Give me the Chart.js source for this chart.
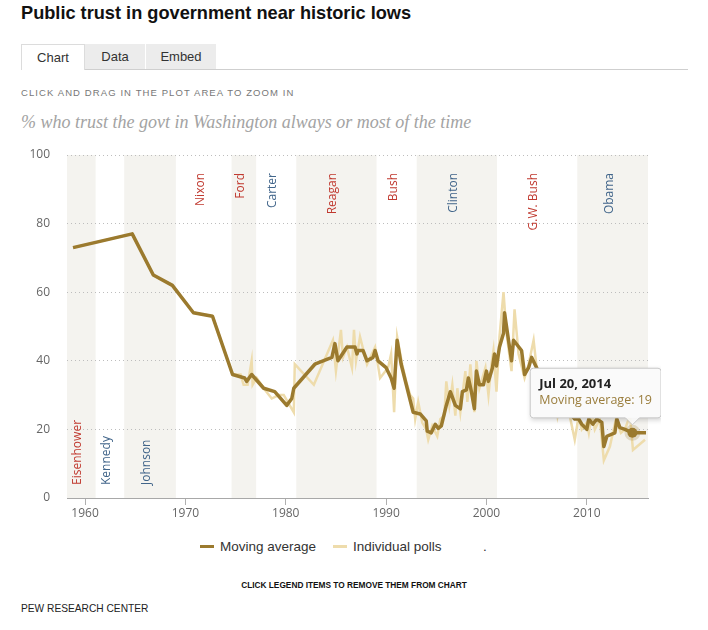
<!DOCTYPE html>
<html>
<head>
<meta charset="utf-8">
<title>Public trust in government near historic lows</title>
<script src="https://cdn.jsdelivr.net/npm/chart.js@4.4.0/dist/chart.umd.min.js"></script>
<style>
  html, body { margin: 0; padding: 0; background: #fff; }
  body { width: 708px; height: 630px; position: relative; overflow: hidden; font-family: 'Liberation Sans', Arial, sans-serif; }
  .abs { position: absolute; white-space: nowrap; }
  #title { left: 21px; top: 3px; font: bold 18.2px 'Liberation Sans Narrow', 'Liberation Sans', sans-serif; color: #111; }
  .tab { position: absolute; top: 44px; height: 25px; line-height: 25px; text-align: center; font-size: 13px; color: #333; background: #ececec; }
  #tab-chart { left: 21px; width: 62px; background: #fff; border: 1px solid #dcdcdc; border-bottom: none; height: 25px; z-index: 2; }
  #tab-data { left: 85px; width: 60px; }
  #tab-embed { left: 146px; width: 70px; }
  #tabline { left: 21px; top: 69px; width: 667px; height: 1px; background: #cfcfcf; }
  #hint { left: 21px; top: 87px; font-size: 9.5px; letter-spacing: 1.1px; color: #777; }
  #subtitle { left: 21px; top: 112px; font: italic 18px 'Liberation Serif', Georgia, serif; color: #a3a3a3; }
  #wrap { position: absolute; left: 0; top: 140px; width: 661px; height: 390px; }
  .leg { position: absolute; top: 539px; height: 16px; line-height: 16px; font: 13.5px 'Liberation Sans Narrow', 'Liberation Sans', sans-serif; color: #333; }
  .leg i { display: inline-block; width: 14px; height: 3px; vertical-align: middle; margin-right: 6px; position: relative; top: -1px; }
  #legnote { left: 0; width: 708px; text-align: center; top: 580px; font: bold 8.3px 'Liberation Sans Narrow', 'Liberation Sans', sans-serif; color: #111; }
  #source { left: 21px; top: 603px; font: 10.2px 'Liberation Sans Narrow', 'Liberation Sans', sans-serif; color: #222; }
</style>
</head>
<body>
<div id="title" class="abs">Public trust in government near historic lows</div>
<div id="tab-chart" class="tab">Chart</div>
<div id="tab-data" class="tab">Data</div>
<div id="tab-embed" class="tab">Embed</div>
<div id="tabline" class="abs"></div>
<div id="hint" class="abs">CLICK AND DRAG IN THE PLOT AREA TO ZOOM IN</div>
<div id="subtitle" class="abs">% who trust the govt in Washington always or most of the time</div>
<div id="wrap"><canvas id="trustChart" width="661" height="390"></canvas></div>
<div class="leg" style="left:200px"><i style="background:#9b7a2e"></i>Moving average</div>
<div class="leg" style="left:333px"><i style="background:#eedcac"></i>Individual polls</div>
<div class="leg" style="left:483px">.</div>
<div id="legnote" class="abs">CLICK LEGEND ITEMS TO REMOVE THEM FROM CHART</div>
<div id="source" class="abs">PEW RESEARCH CENTER</div>

<script>
// Moving average (decimal year, percent)
const avgYears = [1958.8, 1964.7, 1966.8, 1968.7, 1970.8, 1972.7, 1974.7, 1975.9, 1976.1, 1976.6,
  1977.8, 1978.9, 1980.1, 1980.6, 1980.8, 1982.9, 1984.6, 1984.9, 1985.2, 1986.1,
  1986.9, 1987.1, 1987.2, 1987.7, 1988.1, 1988.7, 1988.9, 1989.2, 1990.0, 1990.5,
  1990.8, 1991.1, 1991.5, 1992.7, 1993.4, 1994.0, 1994.1, 1994.5, 1994.9, 1995.2,
  1995.5, 1996.0, 1996.4, 1996.9, 1997.4, 1997.6, 1998.0, 1998.2, 1998.5, 1998.8,
  1999.0, 1999.3, 1999.7, 2000.0, 2000.2, 2000.6, 2000.8, 2001.0, 2001.3, 2001.7,
  2001.8, 2002.2, 2002.5, 2002.7, 2003.5, 2003.8, 2004.2, 2004.5, 2005.0, 2005.5,
  2006.0, 2006.5, 2007.0, 2007.6, 2008.2, 2008.8, 2009.2, 2009.5, 2010.0, 2010.2,
  2010.6, 2011.0, 2011.5, 2011.7, 2012.0, 2012.8, 2013.0, 2013.3, 2013.8, 2014.548,
  2015.9];
const avgValues = [73, 77, 65, 62, 54, 53, 36, 35, 34, 36,
  32, 31, 27, 29, 32, 39, 41, 45, 40, 44,
  44, 42, 43, 43, 40, 41, 43, 40, 38, 35,
  32, 46, 39, 25, 24.5, 22.5, 19.5, 19, 21.5, 20.3,
  21, 27, 31, 27, 26, 31, 31.5, 35, 31, 26,
  37, 33, 33, 37, 34, 38, 42, 38.5, 44, 48,
  54, 46, 40, 46, 43, 36, 38, 41, 38, 35,
  33, 31, 29, 27, 25, 23, 23, 21.5, 20, 23,
  21.5, 23, 22, 15, 18, 19, 23, 20.5, 20, 19,
  19];

// Individual polls
const pollYears = [1958.8, 1964.7, 1966.8, 1968.7, 1970.8, 1972.7, 1974.7, 1975.5, 1975.8, 1976.2,
  1976.6, 1976.7, 1977.1, 1977.8, 1978.6, 1979.3, 1979.8, 1980.6, 1980.8, 1980.9,
  1982.8, 1984.7, 1985.0, 1985.5, 1985.7, 1986.1, 1986.6, 1986.8, 1987.0, 1987.4,
  1988.1, 1988.9, 1989.4, 1990.2, 1990.5, 1990.8, 1991.1, 1991.6, 1992.0, 1992.4,
  1992.7, 1992.9, 1993.2, 1993.6, 1994.0, 1994.2, 1994.6, 1995.1, 1995.4, 1995.8,
  1996.0, 1996.3, 1996.6, 1996.9, 1997.1, 1997.4, 1997.9, 1998.1, 1998.4, 1998.8,
  1999.0, 1999.3, 1999.6, 1999.9, 2000.2, 2000.5, 2000.7, 2001.0, 2001.3, 2001.7,
  2002.0, 2002.5, 2002.8, 2003.2, 2003.8, 2004.2, 2004.7, 2005.0, 2005.5, 2005.9,
  2006.3, 2006.8, 2007.1, 2007.6, 2008.0, 2008.3, 2008.8, 2009.2, 2009.5, 2010.0,
  2010.2, 2010.5, 2010.8, 2011.3, 2011.7, 2012.3, 2012.9, 2013.4, 2013.8, 2014.3,
  2014.6, 2015.8];
const pollValues = [73, 77, 65, 62, 54, 53, 36, 36, 33, 33,
  40, 33, 35, 32, 29, 30, 30, 26, 25, 39,
  33, 46, 37, 49, 41, 44, 38, 49, 40, 47,
  39, 44, 35, 38, 42, 25, 47, 39, 34, 30,
  29, 23, 28, 22, 20, 17, 21, 18, 23, 24,
  34, 27, 33, 24, 32, 25, 37, 28, 39, 25,
  40, 32, 35, 38, 30, 39, 43, 31, 47, 60,
  48, 37, 55, 42, 35, 39, 46, 38, 31, 35,
  28, 33, 24, 30, 26, 24, 17, 24, 20, 22,
  19, 25, 20, 23, 11, 15, 23, 19, 20, 24,
  14, 17];

// Presidencies (shaded bands + rotated labels)
const presNames = ['Eisenhower', 'Kennedy', 'Johnson', 'Nixon', 'Ford', 'Carter', 'Reagan', 'Bush', 'Clinton', 'G.W. Bush', 'Obama'];
const presStart = [1953.05, 1961.05, 1963.9, 1969.05, 1974.6, 1977.05, 1981.05, 1989.05, 1993.05, 2001.05, 2009.05];
const presEnd   = [1961.05, 1963.9, 1969.05, 1974.6, 1977.05, 1981.05, 1989.05, 1993.05, 2001.05, 2009.05, 2017.05];
const presParty = ['R', 'D', 'D', 'R', 'R', 'D', 'R', 'R', 'D', 'R', 'D'];
const presLabelAt = ['bottom', 'bottom', 'bottom', 'top', 'top', 'top', 'top', 'top', 'top', 'top', 'top'];

const yearTicks = [1960, 1970, 1980, 1990, 2000, 2010];
const valueTicks = [0, 20, 40, 60, 80, 100];
const highlightYear = 2014.548; // point shown with the tooltip

const GOLD = '#9b7a2e';
const TAN = '#eedcac';
const BAND = '#f4f3ef';
const partyColor = { R: '#c0392f', D: '#41658a' };
const months = ['Jan', 'Feb', 'Mar', 'Apr', 'May', 'Jun', 'Jul', 'Aug', 'Sep', 'Oct', 'Nov', 'Dec'];

function fmtDate(yr) {
  const y = Math.floor(yr);
  const d = new Date(y, 0, 1 + Math.round((yr - y) * 365));
  return months[d.getMonth()] + ' ' + d.getDate() + ', ' + y;
}

// bands under the grid, labels on top of the bands
const presidentBands = {
  id: 'presidentBands',
  beforeDraw(chart) {
    const { ctx, chartArea: a, scales: { x } } = chart;
    ctx.save();
    ctx.fillStyle = BAND;
    presNames.forEach((n, i) => {
      if (i % 2 !== 0) return;
      const x0 = Math.max(a.left, x.getPixelForValue(presStart[i]));
      const x1 = Math.min(a.right, x.getPixelForValue(presEnd[i]));
      if (x1 > x0) ctx.fillRect(x0, a.top, x1 - x0, a.bottom - a.top);
    });
    ctx.restore();
  },
  beforeDatasetsDraw(chart) {
    const { ctx, chartArea: a, scales: { x } } = chart;
    ctx.save();
    ctx.font = '12px "Open Sans", sans-serif';
    ctx.textBaseline = 'alphabetic';
    presNames.forEach((n, i) => {
      const x0 = Math.max(a.left, x.getPixelForValue(presStart[i]));
      const x1 = Math.min(a.right, x.getPixelForValue(presEnd[i]));
      const cx = (x0 + x1) / 2;
      ctx.save();
      ctx.fillStyle = partyColor[presParty[i]];
      if (presLabelAt[i] === 'top') {
        ctx.translate(cx, a.top + 18);
        ctx.rotate(-Math.PI / 2);
        ctx.textAlign = 'right';
      } else {
        ctx.translate(cx, a.bottom - 13);
        ctx.rotate(-Math.PI / 2);
        ctx.textAlign = 'left';
      }
      ctx.fillText(n, 0, 0);
      ctx.restore();
    });
    ctx.restore();
  }
};

// soft shadow behind the tooltip box
const tooltipShadow = {
  id: 'tooltipShadow',
  beforeTooltipDraw(chart, args) {
    const t = args.tooltip;
    if (!t || !t.opacity) return;
    const ctx = chart.ctx;
    ctx.save();
    ctx.shadowColor = 'rgba(0,0,0,0.18)';
    ctx.shadowBlur = 5;
    ctx.shadowOffsetX = 1;
    ctx.shadowOffsetY = 2;
    ctx.fillStyle = '#fafafa';
    ctx.fillRect(t.x, t.y, t.width, t.height);
    ctx.restore();
  }
};

Chart.defaults.font.family = '"Open Sans", sans-serif';

const ctx = document.getElementById('trustChart');
const chart = new Chart(ctx, {
  type: 'line',
  data: {
    datasets: [{
      label: 'Moving average',
      data: avgYears.map((x, i) => ({ x: x, y: avgValues[i] })),
      borderColor: GOLD,
      backgroundColor: GOLD,
      borderWidth: 3.5,
      pointRadius: 0,
      pointHoverRadius: 5,
      pointHoverBackgroundColor: GOLD,
      pointHoverBorderColor: 'rgba(155,122,46,0.22)',
      pointHoverBorderWidth: 6,
      tension: 0,
      borderJoinStyle: 'round'
    }, {
      label: 'Individual polls',
      data: pollYears.map((x, i) => ({ x: x, y: pollValues[i] })),
      borderColor: TAN,
      backgroundColor: TAN,
      borderWidth: 2.5,
      pointRadius: 0,
      pointHoverRadius: 0,
      tension: 0
    }]
  },
  options: {
    responsive: false,
    animation: false,
    layout: { padding: { top: 15, right: 13, left: 0, bottom: 0 } },
    scales: {
      x: {
        type: 'linear',
        min: 1958.2,
        max: 2016.1,
        afterBuildTicks: s => { s.ticks = yearTicks.map(v => ({ value: v })); },
        afterFit: s => { s.height = 32; },
        grid: { drawOnChartArea: false, drawTicks: true, tickLength: 7, color: '#b0b0b0' },
        border: { display: true, color: '#a8a8a8', width: 1 },
        ticks: { color: '#666', padding: 1, maxRotation: 0, font: { size: 12 }, callback: v => String(v) }
      },
      y: {
        min: 0,
        max: 100,
        afterBuildTicks: s => { s.ticks = valueTicks.map(v => ({ value: v })); },
        // fixed axis width; the label gap should not push the plot down
        afterFit: s => { s.width = 67; s.paddingTop = 0; s.paddingBottom = 0; },
        grid: {
          drawTicks: false,
          color: c => (c.tick && c.tick.value === 0) ? 'rgba(0,0,0,0)' : '#bdbdbd'
        },
        border: { display: false, dash: [1, 3] },
        ticks: { color: '#666', padding: 17, font: { size: 12 } }
      }
    },
    plugins: {
      legend: { display: false }, // legenda feita em HTML
      tooltip: {
        backgroundColor: 'rgba(250,250,250,0.9)',
        borderColor: '#c8c8c8',
        borderWidth: 1,
        cornerRadius: 3,
        displayColors: false,
        xAlign: 'center',
        yAlign: 'bottom',
        caretSize: 7,
        caretPadding: 8,
        padding: { top: 8, bottom: 10, left: 9, right: 9 },
        titleColor: '#222',
        titleFont: { size: 13, weight: 'bold' },
        titleMarginBottom: 1,
        bodyColor: '#9a7d3c',
        bodyFont: { size: 12.5 },
        callbacks: {
          title: items => fmtDate(items[0].parsed.x),
          label: item => item.dataset.label + ': ' + item.parsed.y
        }
      }
    }
  },
  plugins: [presidentBands, tooltipShadow]
});

// show the highlighted point and its tooltip, as in the screenshot
const hi = avgYears.indexOf(highlightYear);
if (hi >= 0) {
  const el = chart.getDatasetMeta(0).data[hi];
  chart.setActiveElements([{ datasetIndex: 0, index: hi }]);
  chart.tooltip.setActiveElements([{ datasetIndex: 0, index: hi }], { x: el.x, y: el.y });
  chart.update();
}
</script>
</body>
</html>
